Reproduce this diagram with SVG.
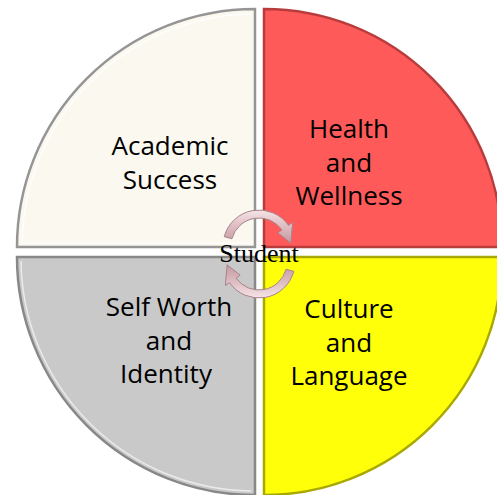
<svg xmlns="http://www.w3.org/2000/svg" width="497" height="495" viewBox="0 0 497 495">
<defs>
<linearGradient id="arrowGrad" x1="0" y1="0" x2="0" y2="1">
<stop offset="0" stop-color="#f5e4e6"/>
<stop offset="0.5" stop-color="#ddbcc1"/>
<stop offset="1" stop-color="#c49aa0"/>
</linearGradient>
<style>
.lbl{font-family:"Open Sans","Liberation Sans",sans-serif;font-size:26px;fill:#000;text-anchor:middle}
.ctr{font-family:"Liberation Serif","Times New Roman",serif;font-size:26px;fill:#000;text-anchor:middle}
.arr{fill:url(#arrowGrad);stroke:#a9828a;stroke-width:1}
</style>
</defs>
<rect width="497" height="495" fill="#ffffff"/>
<g id="academic">
<path d="M255,247 L17,247 A238,238 0 0 1 255,9 Z" fill="#faf8ef" stroke="#959595" stroke-width="2.5"/>
<path d="M251,243 L22,243 A233,233 0 0 1 251,14" fill="none" stroke="#ffffff" stroke-width="1.5" opacity="0.8"/>
<text class="lbl" x="170" y="155">Academic</text>
<text class="lbl" x="170" y="189">Success</text>
</g>
<g id="health">
<path d="M264,247 L264,9 A238,238 0 0 1 502,247 Z" fill="#ff5a5a" stroke="#b83c3c" stroke-width="2.5"/>
<text class="lbl" x="349" y="138">Health</text>
<text class="lbl" x="349" y="172">and</text>
<text class="lbl" x="349" y="205">Wellness</text>
</g>
<g id="selfworth">
<path d="M255,257 L17,257 A238,238 0 0 0 255,495 Z" fill="#c9c9c9" stroke="#888888" stroke-width="2.5"/>
<path d="M21,261 A233,233 0 0 0 251,491" fill="none" stroke="#f4f4f4" stroke-width="1.5" opacity="0.8"/>
<text class="lbl" x="169" y="316">Self Worth</text>
<text class="lbl" x="169" y="350">and</text>
<text class="lbl" x="166" y="383">Identity</text>
</g>
<g id="culture">
<path d="M264,257 L502,257 A238,238 0 0 1 264,495 Z" fill="#ffff0a" stroke="#a8a800" stroke-width="2.5"/>
<text class="lbl" x="349" y="318">Culture</text>
<text class="lbl" x="349" y="352">and</text>
<text class="lbl" x="349" y="385">Language</text>
</g>
<g id="connectors">
<path class="arr" d="M224.23,236.68 A36,36 0 0 1 288.49,225.35 L292.59,222.48 L290.88,243.21 L277.84,232.81 L281.94,229.94 A28,28 0 0 0 231.95,238.75 Z"/>
<path class="arr" transform="rotate(180 259 254)" d="M224.23,236.68 A36,36 0 0 1 288.49,225.35 L292.59,222.48 L290.88,243.21 L277.84,232.81 L281.94,229.94 A28,28 0 0 0 231.95,238.75 Z"/>
</g>
<g id="student">
<text class="ctr" x="259" y="262">Student</text>
</g>
</svg>
